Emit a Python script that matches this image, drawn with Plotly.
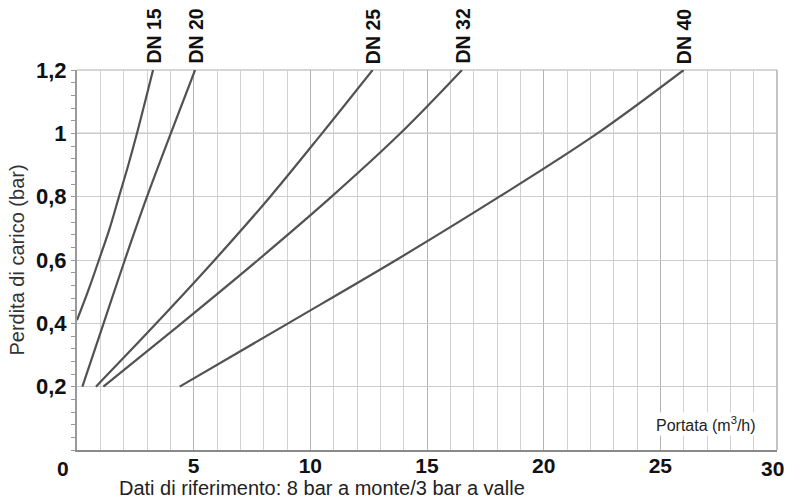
import plotly.graph_objects as go

# ---- data ----
series_names = ["DN 15", "DN 20", "DN 25", "DN 32", "DN 40"]
dn15_flow = [0.0, 0.5, 0.94, 1.4, 1.8, 2.2, 2.57, 3.26]
dn15_loss = [0.41, 0.507, 0.6, 0.7, 0.8, 0.9, 1.0, 1.2]
dn20_flow = [0.23, 1.14, 2.05, 3.0, 4.02, 5.06]
dn20_loss = [0.2, 0.4, 0.6, 0.8, 1.0, 1.2]
dn25_flow = [0.81, 3.4, 5.9, 8.28, 10.5, 12.67]
dn25_loss = [0.2, 0.4, 0.6, 0.8, 1.0, 1.2]
dn32_flow = [1.13, 4.48, 7.76, 10.91, 13.86, 16.5]
dn32_loss = [0.2, 0.4, 0.6, 0.8, 1.0, 1.2]
dn40_flow = [4.4, 9.05, 13.68, 18.1, 22.3, 26.0]
dn40_loss = [0.2, 0.4, 0.6, 0.8, 1.0, 1.2]

x_tickvals = [5, 10, 15, 20, 25]
x_ticktext = ["5", "10", "15", "20", "25"]
y_tickvals = [0.2, 0.4, 0.6, 0.8, 1.0, 1.2]
y_ticktext = ["0,2", "0,4", "0,6", "0,8", "1", "1,2"]

y_title = "Perdita di carico (bar)"
x_title = "Portata (m<sup>3</sup>/h)"
note = "Dati di riferimento: 8 bar a monte/3 bar a valle"

flows = [dn15_flow, dn20_flow, dn25_flow, dn32_flow, dn40_flow]
losses = [dn15_loss, dn20_loss, dn25_loss, dn32_loss, dn40_loss]

FONT = "Liberation Sans, Arial, sans-serif"
LINE = "#525252"
BOLD = dict(family=FONT, size=22, color="#111", weight="bold")
XBOLD = dict(family=FONT, size=21, color="#111", weight="bold")

W, H = 786, 501
L, R, T, B = 77, 9, 70, 51
pw, ph = W - L - R, H - T - B


def px_to_paper(px, py):
    return (px - L) / pw, (H - B - py) / ph


fig = go.Figure()
for name, fx, fy in zip(series_names, flows, losses):
    fig.add_trace(go.Scatter(
        x=fx, y=fy, mode="lines", name=name,
        line=dict(color=LINE, width=2.2, shape="spline", smoothing=1.0),
        showlegend=False, hoverinfo="skip",
    ))
    fig.add_annotation(
        x=fx[-1], y=fy[-1], xref="x", yref="y",
        text=name, textangle=-90, showarrow=False,
        xanchor="center", yanchor="bottom", yshift=4,
        font=dict(family=FONT, size=19.5, color="#111", weight="bold"),
    )

# darker reference line at 1 bar
fig.add_shape(type="line", xref="x domain", yref="y", x0=0, x1=1, y0=1, y1=1,
              line=dict(color="#8c8c8c", width=1.3), layer="below")
# top and right border
fig.add_shape(type="line", xref="x domain", yref="y domain", x0=0, x1=1, y0=1, y1=1,
              line=dict(color="#c8c8c8", width=1.5), layer="below")
fig.add_shape(type="line", xref="x domain", yref="y domain", x0=1, x1=1, y0=0, y1=1,
              line=dict(color="#b0b0b0", width=1.5), layer="below")

# axis end labels
fig.add_annotation(x=0, y=0, xref="x", yref="y", text="0", showarrow=False,
                   xanchor="right", yanchor="top", xshift=-6, yshift=-5, font=XBOLD)
fig.add_annotation(x=30, y=0, xref="x", yref="y", text="30", showarrow=False,
                   xanchor="right", yanchor="top", xshift=9, yshift=-5, font=XBOLD)
# x axis title inside plot
ax, ay = px_to_paper(706, 424)
fig.add_annotation(x=ax, y=ay, xref="paper", yref="paper", text=x_title,
                   xanchor="center", yanchor="middle",
                   showarrow=False, font=dict(family=FONT, size=16, color="#222"),
                   bgcolor="white", borderpad=1)
# reference note
nx, ny = px_to_paper(117, 488)
fig.add_annotation(x=nx, y=ny, xref="paper", yref="paper", text=note, showarrow=False,
                   xanchor="left", yanchor="middle",
                   font=dict(family=FONT, size=20, color="#222"))

fig.update_layout(
    width=W, height=H,
    margin=dict(l=L, r=R, t=T, b=B, autoexpand=False),
    plot_bgcolor="white", paper_bgcolor="white",
    font=dict(family=FONT, color="#111"),
    xaxis=dict(
        range=[0, 30], tickvals=x_tickvals, ticktext=x_ticktext,
        tickfont=XBOLD, automargin=False, ticklabelstandoff=-4,
        ticks="", showline=True, linecolor="#8a8a8a", linewidth=2,
        showgrid=True, gridcolor="#b4b4b4", gridwidth=1.2,
        minor=dict(dtick=1, showgrid=True, gridcolor="#d2d2d2", gridwidth=1.2),
        zeroline=False, fixedrange=True,
    ),
    yaxis=dict(
        range=[0, 1.2], tickvals=y_tickvals, ticktext=y_ticktext,
        tickfont=BOLD, automargin=False,
        ticks="outside", ticklen=4, tickcolor="#9a9a9a", tickwidth=1,
        showline=True, linecolor="#9a9a9a", linewidth=2,
        showgrid=True, gridcolor="#cccccc", gridwidth=1.3,
        minor=dict(dtick=0.04, ticks="outside", ticklen=4, tickcolor="#9a9a9a",
                   showgrid=False),
        zeroline=False, fixedrange=True,
        title=dict(text=y_title, font=dict(family=FONT, size=20, color="#333"),
                   standoff=6),
    ),
)

fig.write_html(
    "out.html",
    config={"displayModeBar": False},
    post_script="document.body.style.margin='0';document.body.style.overflow='hidden';",
)
